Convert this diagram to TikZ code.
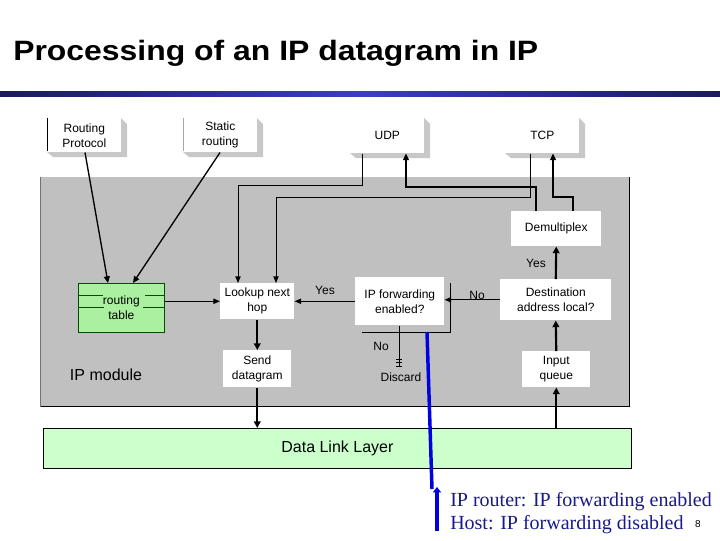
\documentclass[tikz,border=0pt]{standalone}
\usepackage{fontspec}
\setmainfont{Liberation Sans}
\newfontfamily\timesf{Liberation Serif}
\newfontfamily\titlef{Liberation Sans}
\usetikzlibrary{arrows.meta}
\definecolor{modgray}{RGB}{192,192,192}
\definecolor{shadowgray}{RGB}{200,200,200}
\definecolor{dllgreen}{RGB}{204,255,204}
\definecolor{rtgreen}{RGB}{170,240,160}
\definecolor{notenavy}{RGB}{25,25,140}
\definecolor{ruledark}{RGB}{25,25,100}
\definecolor{rulemid}{RGB}{60,60,200}
\definecolor{callblue}{RGB}{0,0,225}
\newcommand\shbox[4]{\fill[shadowgray] (#1,#4) -- ({#1+6},{#4+5}) -- ({#3+6},{#4+5}) -- ({#3+6},{#2+6}) -- (#3,#2) -- cycle;}
\tikzset{
  box/.style={fill=white, inner sep=0pt, align=center, anchor=north west,
    font=\fontsize{9}{11.25}\selectfont},
  thinarr/.style={line width=0.75pt, -{Triangle[length=5pt,width=4pt]}},
  medarr/.style={line width=1pt, -{Triangle[length=5pt,width=4.5pt]}},
  thickarr/.style={line width=1.6pt, -{Triangle[length=5pt,width=5pt]}},
  lbl/.style={font=\fontsize{9}{11}\selectfont, inner sep=0pt},
}
\begin{document}
\begin{tikzpicture}[x=0.75pt,y=-0.75pt]
\useasboundingbox (0,0) rectangle (720,540);
\fill[white] (0,0) rectangle (720,540);
% title
\node[anchor=base west, inner sep=0pt, font=\titlef\bfseries\fontsize{21}{25}\selectfont] (title) at (13,60) {\scalebox{1.14}[1]{Processing of an IP datagram in IP}};
\shade[left color=ruledark, right color=ruledark, middle color=rulemid] (0,91) rectangle (720,96);
% IP module area
\node[fill=modgray, inner sep=0pt, anchor=north west, minimum width=441.75pt, minimum height=171.75pt] (module) at (40,177) {};
\draw[line width=0.75pt] (module.north east) -- (module.south east) -- (module.south west);
\draw[line width=0.5pt, black!55] (module.south west) -- (module.north west);
\node[lbl, font=\fontsize{12}{14}\selectfont] (ipmod) at (106,375) {IP module};
% top boxes with shadows
\shbox{47}{118}{121}{152}
\shbox{183}{118}{257}{152}
\shbox{350}{118}{424}{153}
\shbox{505}{118}{579}{153}
\node[box, minimum width=55.5pt, minimum height=25.5pt] (rp) at (47,118) {Routing\\Protocol};
\node[box, minimum width=55.5pt, minimum height=25.5pt] (sr) at (183,118) {Static\\routing};
\node[box, minimum width=55.5pt, minimum height=26.25pt] (udp) at (350,118) {UDP};
\node[box, minimum width=55.5pt, minimum height=26.25pt] (tcp) at (505,118) {TCP};
\draw[line width=0.75pt] (rp.north west) -- ([yshift=1.5pt]rp.south west);
\draw[line width=0.5pt, black!35] (sr.north west) -- ([yshift=1.5pt]sr.south west);
% inner boxes
\node[box, minimum width=67.5pt, minimum height=26.25pt] (demux) at (511,211) {Demultiplex};
\node[box, minimum width=83.25pt, minimum height=30.75pt] (dest) at (500,279) {Destination\\address local?};
\node[box, minimum width=66.75pt, minimum height=36pt] (ipf) at (355,277) {IP forwarding\\enabled?};
\node[box, minimum width=55.5pt, minimum height=27pt] (lookup) at (220,283) {Lookup next\\hop};
\node[box, fill=rtgreen, draw=black!70!green, line width=0.5pt, minimum width=64.5pt, minimum height=36.75pt] (rt) at (78,283) {routing\\table};
\draw[line width=0.6pt, black!70!green] (78,295) -- (103,295) (145,295) -- (164,295) (78,307) -- (104,307) (143,307) -- (164,307);
\node[box, minimum width=51pt, minimum height=27.75pt] (send) at (223,350) {Send\\datagram};
\node[box, minimum width=51pt, minimum height=27pt] (inq) at (522,351) {Input\\queue};
% data link layer
\node[box, fill=dllgreen, draw=black, line width=0.6pt, minimum width=441pt, minimum height=30pt, font=\fontsize{12}{14}\selectfont] (dll) at (43,428) {Data Link Layer};
% outline lines at IP forwarding box
\draw[line width=0.75pt] (450,283) -- (450,332) -- (362,332);
% connectors
\draw[medarr] (rp.south -| 85,0) -- (rt.north -| 108,0);
\draw[medarr] (sr.south -| 220,0) -- (rt.north -| 133,0);
\draw[thinarr] (rt.east |- lookup.west) -- (lookup.west);
\draw[thinarr] (udp.south -| 362,0) |- (238,185) -- (lookup.north -| 238,0);
\draw[thinarr] (tcp.south -| 530,0) |- (276,197) -- (lookup.north -| 276,0);
\draw[medarr] (demux.north -| 536,0) |- (406,187) -- (udp.south -| 406,0);
\draw[medarr] (demux.north -| 573,0) |- (553,197) -- (tcp.south -| 553,0);
\draw[thickarr] (dest.north) -- (demux.south);
\draw[thickarr] (inq.north) -- (dest.south);
\draw[thickarr] (dll.north -| inq.south) -- (inq.south);
\draw[thinarr] (dest.west) -- (dest.west -| ipf.east);
\draw[thinarr] (ipf.west |- lookup.east) -- (lookup.east);
\draw[thickarr] (lookup.south) -- (send.north);
\draw[thickarr] (send.south) -- (dll.north -| send.south);
% discard
\coordinate (dend) at (399,367);
\draw[line width=0.75pt] (ipf.south -| dend) -- (dend);
\draw[line width=0.75pt] (396,359) -- (402,359) (396,362.5) -- (402,362.5) (396,366) -- (402,366);
\node[lbl] (discard) at (401,377) {Discard};
% labels
\node[lbl] (yes1) at (325,290) {Yes};
\node[lbl] (no1) at (477,295) {No};
\node[lbl] (yes2) at (536,263) {Yes};
\node[lbl] (no2) at (381,346) {No};
% callout
\coordinate (cs) at (427,332);
\coordinate (ce) at (432,489);
\draw[callblue, line width=2.6pt] (cs) -- (ce);
\draw[callblue, line width=2.6pt, -{Triangle[length=4pt,width=6pt]}] (437,531) -- (437,487);
\node[anchor=base west, inner sep=0pt, text=notenavy, font=\timesf\fontsize{15}{17}\selectfont] (note1) at (450,506) {IP router: IP forwarding enabled};
\node[anchor=base west, inner sep=0pt, text=notenavy, font=\timesf\fontsize{15}{17}\selectfont] (note2) at (450,529) {Host: IP forwarding disabled};
\node[anchor=base, inner sep=0pt, font=\fontsize{7.5}{9}\selectfont] (pnum) at (698,527) {8};
\end{tikzpicture}
\end{document}
